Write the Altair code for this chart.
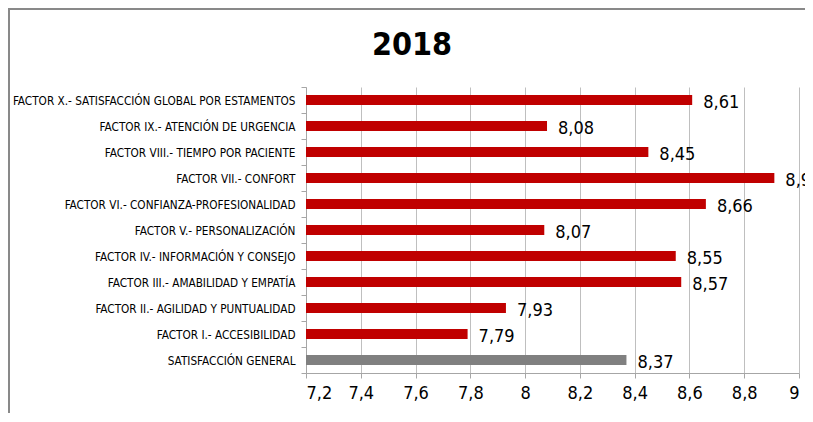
import altair as alt
import pandas as pd

categories = [
    "FACTOR X.- SATISFACCIÓN GLOBAL POR ESTAMENTOS",
    "FACTOR IX.- ATENCIÓN DE URGENCIA",
    "FACTOR VIII.- TIEMPO POR PACIENTE",
    "FACTOR VII.- CONFORT",
    "FACTOR VI.- CONFIANZA-PROFESIONALIDAD",
    "FACTOR V.- PERSONALIZACIÓN",
    "FACTOR IV.- INFORMACIÓN Y CONSEJO",
    "FACTOR III.- AMABILIDAD Y EMPATÍA",
    "FACTOR II.- AGILIDAD Y PUNTUALIDAD",
    "FACTOR I.- ACCESIBILIDAD",
    "SATISFACCIÓN GENERAL",
]
values = [8.61, 8.08, 8.45, 8.91, 8.66, 8.07, 8.55, 8.57, 7.93, 7.79, 8.37]
groups = ["factor"] * 10 + ["general"]
x_ticks = [7.2, 7.4, 7.6, 7.8, 8.0, 8.2, 8.4, 8.6, 8.8, 9.0]
title_text = ["2018"]

df = pd.DataFrame({"cat": categories, "val": values, "grp": groups})
df["lbl"] = df["val"].map(lambda v: f"{v:.2f}".replace(".", ","))
df_title = pd.DataFrame({"t": title_text})

FONT = "Liberation Sans Narrow, DejaVu Sans Condensed, sans-serif"

x = alt.X(
    "val:Q",
    scale=alt.Scale(domain=[7.2, 9.0], zero=False, nice=False),
    axis=alt.Axis(
        values=x_ticks,
        title=None,
        labelExpr="replace(format(datum.value, '.1~f'), '.', ',')",
        labelFont=FONT,
        labelFontSize=18,
        labelColor="#000000",
        labelPadding=6,
        grid=True,
        gridColor="#BFBFBF",
        domainColor="#A6A6A6",
        tickColor="#A6A6A6",
        tickSize=5,
    ),
)
y = alt.Y(
    "cat:N",
    sort=categories,
    scale=alt.Scale(paddingInner=0, paddingOuter=0),
    axis=alt.Axis(
        title=None,
        labelFont=FONT,
        labelFontSize=11.7,
        labelColor="#000000",
        labelPadding=6,
        labelLimit=400,
        tickBand="extent",
        domainColor="#A6A6A6",
        tickColor="#A6A6A6",
        tickSize=5,
        grid=False,
    ),
)

frame = alt.Chart(df_title).mark_rect(filled=False, stroke="#898989", strokeWidth=2).encode(
    x=alt.value(-297), x2=alt.value(520), y=alt.value(-78), y2=alt.value(340)
)

title = alt.Chart(df_title).mark_text(
    align="center", baseline="alphabetic", font=FONT, fontSize=32, fontWeight="bold",
    color="#000000",
).encode(x=alt.value(106), y=alt.value(-32), text="t:N")

bars = alt.Chart(df).mark_bar(size=10).encode(
    x=x,
    x2=alt.datum(7.2),
    y=y,
    color=alt.Color(
        "grp:N",
        scale=alt.Scale(domain=["factor", "general"], range=["#C00000", "#808080"]),
        legend=None,
    ),
)

labels = alt.Chart(df).mark_text(
    align="left", baseline="middle", dx=11, dy=3, font=FONT, fontSize=18, color="#000000"
).encode(x="val:Q", y=alt.Y("cat:N", sort=categories), text="lbl:N")

chart = (
    alt.layer(frame, title, bars, labels)
    .properties(
        width=493,
        height=286,
        autosize=alt.AutoSizeParams(type="none"),
        padding={"left": 298, "top": 79, "right": 6, "bottom": 40},
    )
    .configure_view(stroke=None)
)

chart.save("out.html", embed_options={"renderer": "svg", "actions": False})
